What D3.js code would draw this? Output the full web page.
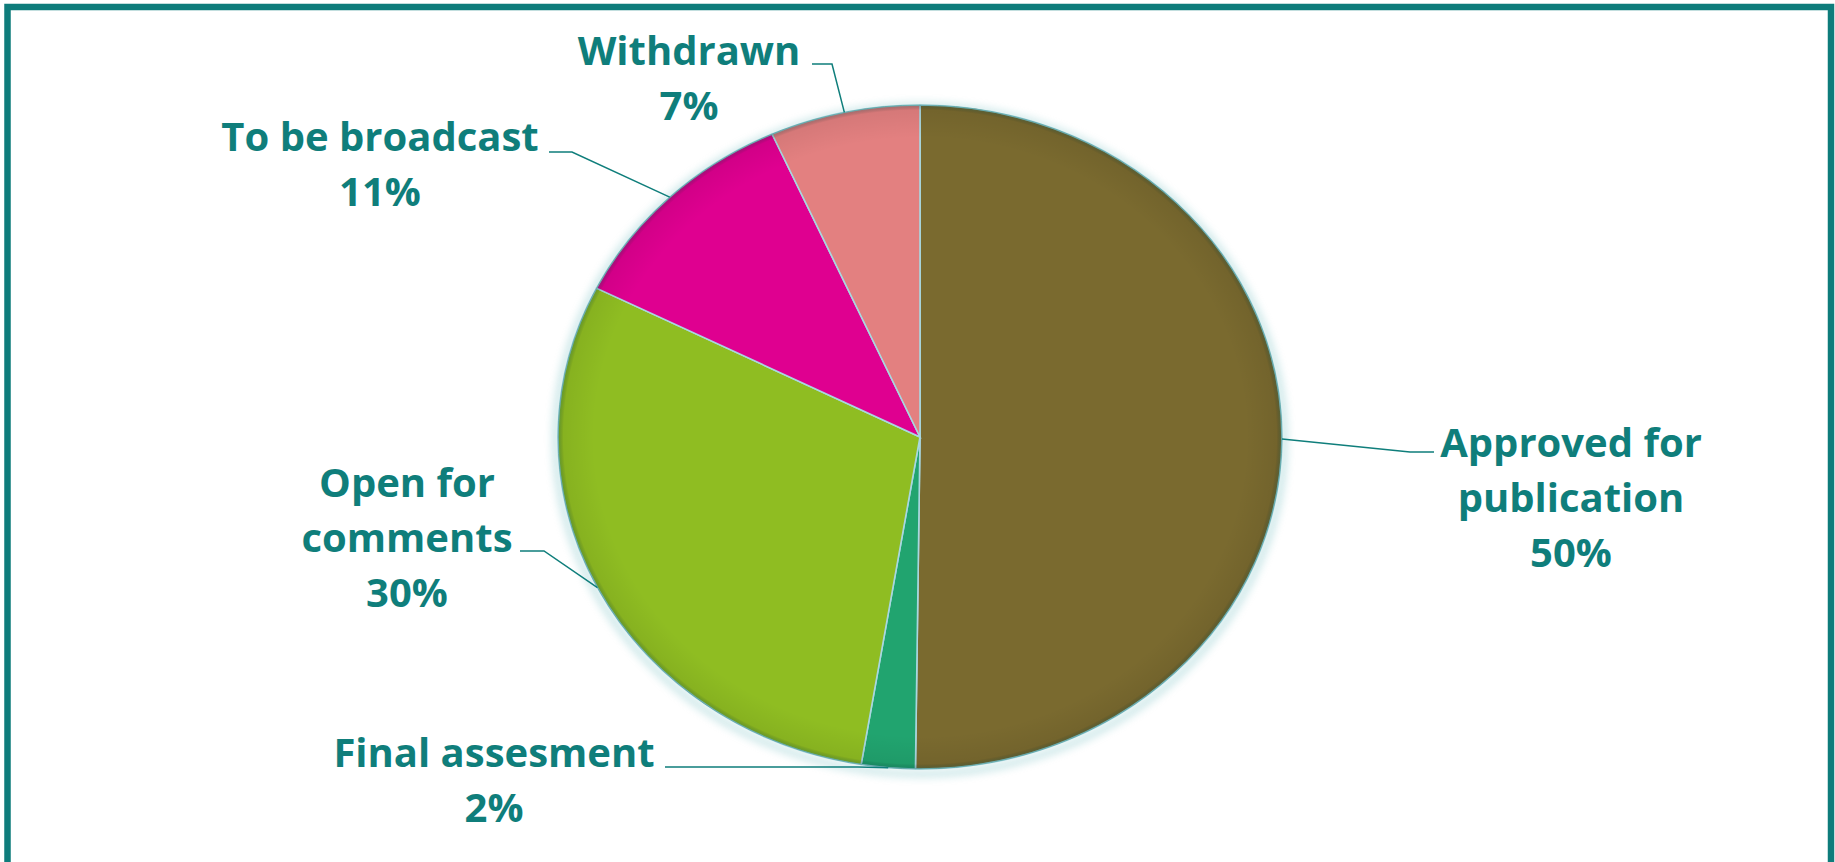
<!DOCTYPE html>
<html>
<head>
<meta charset="utf-8">
<script src="https://cdn.jsdelivr.net/npm/d3@7"></script>
<style>
  html, body { margin: 0; padding: 0; background: #ffffff; }
  svg { display: block; }
</style>
</head>
<body>
<svg id="chart" width="1835" height="862"></svg>
<script>
// ---- data ----
const categories = ["Approved for publication", "Final assesment", "Open for comments", "To be broadcast", "Withdrawn"];
const values = [50.2, 2.4, 29.8, 10.9, 6.7];
const labelLines = [["Approved for", "publication"], ["Final assesment"], ["Open for", "comments"], ["To be broadcast"], ["Withdrawn"]];
const colors = ["#7a6a2f", "#21a46f", "#8fbd22", "#df0090", "#e38080"];

// ---- layout ----
const W = 1835, H = 862;
const cx = 920, cy = 437, rx = 362, ry = 332;
const teal = "#0f7e7b";
const fontSize = 40;
const lineH = 55;
// label layout: text centre x, first baseline y, elbow point, horizontal end x of leader
const labelLayout = [
  { x: 1571, y: 457, elbow: [1410, 452], end: 1434 },
  { x: 494,  y: 767, elbow: [858, 767],  end: 665 },
  { x: 407,  y: 497, elbow: [544, 551],  end: 520 },
  { x: 380,  y: 151, elbow: [572, 152],  end: 549 },
  { x: 689,  y: 65,  elbow: [832, 64],   end: 812 }
];

const svg = d3.select("#chart");
const defs = svg.append("defs");
const blur = defs.append("filter").attr("id", "blur").attr("x", "-20%").attr("y", "-20%").attr("width", "140%").attr("height", "140%");
blur.append("feGaussianBlur").attr("stdDeviation", 4);

const rg = defs.append("radialGradient").attr("id", "rim").attr("cx", "50%").attr("cy", "50%").attr("r", "50%");
rg.append("stop").attr("offset", "0.9").attr("stop-color", "#000").attr("stop-opacity", 0);
rg.append("stop").attr("offset", "0.985").attr("stop-color", "#000").attr("stop-opacity", 0.06);
rg.append("stop").attr("offset", "1").attr("stop-color", "#0a6060").attr("stop-opacity", 0.35);

// frame
svg.append("rect")
  .attr("x", 7.5).attr("y", 7).attr("width", 1823.5).attr("height", 900)
  .attr("fill", "none").attr("stroke", "#0e7c7b").attr("stroke-width", 6.5);

// pie
const pie = d3.pie().sort(null).value(d => d)(values);
const arc = d3.arc().innerRadius(0).outerRadius(ry);

const pieG = svg.append("g").attr("transform", `translate(${cx},${cy}) scale(${rx / ry},1)`);

// soft shadow / glow
pieG.append("circle").attr("r", ry + 2).attr("cy", 3)
  .attr("fill", "none").attr("stroke", "#7fc3c6").attr("stroke-width", 5)
  .attr("opacity", 0.55).attr("filter", "url(#blur)");

pieG.selectAll("path.slice").data(pie).join("path")
  .attr("class", "slice")
  .attr("d", arc)
  .attr("fill", (d, i) => colors[i])
  .attr("stroke", "#a9d7e0")
  .attr("stroke-width", 1.6)
  .attr("vector-effect", "non-scaling-stroke");

// rim shading
pieG.append("circle").attr("r", ry).attr("fill", "url(#rim)").attr("pointer-events", "none");
pieG.append("circle").attr("r", ry).attr("fill", "none")
  .attr("stroke", "#4f9e9c").attr("stroke-width", 1).attr("opacity", 0.6)
  .attr("vector-effect", "non-scaling-stroke");

// leaders + labels
const lg = svg.append("g");
pie.forEach((d, i) => {
  const L = labelLayout[i];
  const mid = (d.startAngle + d.endAngle) / 2;
  const px = cx + rx * Math.sin(mid);
  const py = cy - ry * Math.cos(mid);
  lg.append("path")
    .attr("d", d3.line()([[px, py], L.elbow, [L.end, L.elbow[1]]]))
    .attr("fill", "none").attr("stroke", teal).attr("stroke-width", 1.5);

  const lines = labelLines[i].concat([d3.format(".0f")(d.data) + "%"]);
  const t = lg.append("text")
    .attr("text-anchor", "middle")
    .attr("font-family", "'Open Sans', 'Noto Sans', sans-serif")
    .attr("font-weight", 700)
    .attr("font-size", fontSize)
    .attr("fill", teal);
  lines.forEach((s, k) => {
    t.append("tspan").attr("x", L.x).attr("y", L.y + k * lineH).text(s);
  });
});
</script>
</body>
</html>
